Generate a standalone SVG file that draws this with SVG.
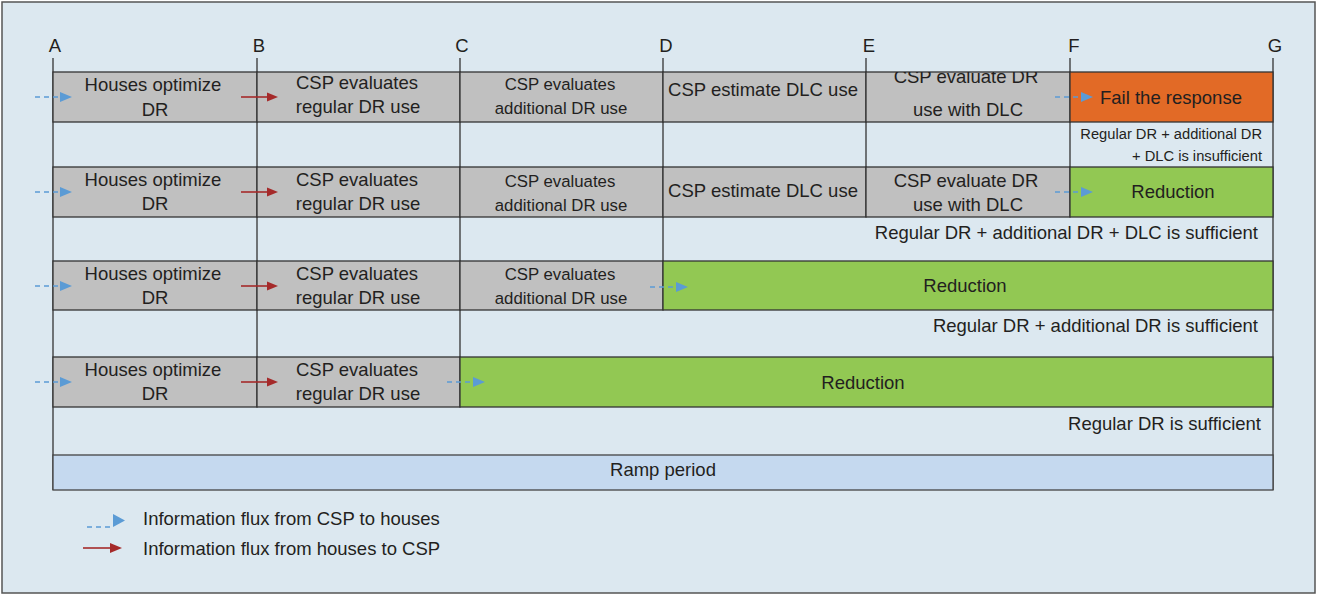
<svg xmlns="http://www.w3.org/2000/svg" width="1325" height="595" viewBox="0 0 1325 595">
<defs>
<style>
.t{font-family:"Liberation Sans",Arial,Helvetica,sans-serif;font-size:18.5px;fill:#231f20;text-anchor:middle}
.sm{font-size:14.7px}
.re{text-anchor:end}
.st{text-anchor:start}
.cond{font-size:16.8px}
.gray{fill:#c0c0c0;stroke:#333;stroke-width:1.3}
.green{fill:#92c853;stroke:#333;stroke-width:1.3}
.orange{fill:#e26a26;stroke:#333;stroke-width:1.3}
.ramp{fill:#c5d9ef;stroke:#444;stroke-width:1.3}
.grid{stroke:#333;stroke-width:1.3;fill:none}
.blue{stroke:#5b9bd5;stroke-width:1.6;stroke-dasharray:5 4;fill:none}
.red{stroke:#a52a2a;stroke-width:1.6;fill:none}
</style>
<marker id="hb" markerUnits="userSpaceOnUse" markerWidth="12" markerHeight="10" refX="0" refY="5" orient="auto"><path d="M0,0 L12,5 L0,10 z" fill="#5b9bd5"/></marker>
<marker id="hr" markerUnits="userSpaceOnUse" markerWidth="11" markerHeight="10" refX="0" refY="5" orient="auto"><path d="M0,0.5 L11,5 L0,9.5 z" fill="#a52a2a"/></marker>
<clipPath id="clipE1"><rect x="866" y="72" width="204" height="50"/></clipPath>
</defs>

<rect x="2" y="2" width="1313" height="591" fill="#dce8f0" stroke="#555" stroke-width="1.5"/>

<g id="axis">
<text class="t" x="55" y="52">A</text>
<text class="t" x="259" y="52">B</text>
<text class="t" x="462" y="52">C</text>
<text class="t" x="666" y="52">D</text>
<text class="t" x="869" y="52">E</text>
<text class="t" x="1074" y="52">F</text>
<text class="t" x="1275" y="52">G</text>
</g>

<g id="grid" class="grid">
<line x1="53" y1="58" x2="53" y2="490"/>
<line x1="257" y1="58" x2="257" y2="407"/>
<line x1="460" y1="58" x2="460" y2="407"/>
<line x1="663" y1="58" x2="663" y2="310"/>
<line x1="866" y1="58" x2="866" y2="217"/>
<line x1="1070" y1="58" x2="1070" y2="217"/>
<line x1="1273" y1="58" x2="1273" y2="490"/>
</g>

<!-- Row 1 -->
<g id="r1-houses"><rect class="gray" x="53" y="72" width="204" height="50"/><text class="t" x="153" y="91">Houses optimize</text><text class="t" x="155" y="116">DR</text></g>
<g id="r1-regular"><rect class="gray" x="257" y="72" width="203" height="50"/><text class="t" x="357" y="89">CSP evaluates</text><text class="t" x="358" y="113">regular DR use</text></g>
<g id="r1-additional"><rect class="gray" x="460" y="72" width="203" height="50"/><text class="t cond" x="560" y="90">CSP evaluates</text><text class="t cond" x="561" y="114">additional DR use</text></g>
<g id="r1-dlc"><rect class="gray" x="663" y="72" width="203" height="50"/><text class="t" x="763" y="95.5">CSP estimate DLC use</text></g>
<g id="r1-withdlc"><rect class="gray" x="866" y="72" width="204" height="50"/><text class="t" x="966" y="83" clip-path="url(#clipE1)">CSP evaluate DR</text><text class="t" x="968" y="116">use with DLC</text></g>
<g id="r1-fail"><rect class="orange" x="1070" y="72" width="203" height="50"/><text class="t" x="1171" y="103.5">Fail the response</text></g>
<g id="r1-note"><text class="t sm re" x="1262" y="138.5">Regular DR + additional DR</text><text class="t sm re" x="1262" y="161">+ DLC is insufficient</text></g>

<!-- Row 2 -->
<g id="r2-houses"><rect class="gray" x="53" y="167" width="204" height="50"/><text class="t" x="153" y="186">Houses optimize</text><text class="t" x="155" y="210">DR</text></g>
<g id="r2-regular"><rect class="gray" x="257" y="167" width="203" height="50"/><text class="t" x="357" y="186">CSP evaluates</text><text class="t" x="358" y="210">regular DR use</text></g>
<g id="r2-additional"><rect class="gray" x="460" y="167" width="203" height="50"/><text class="t cond" x="560" y="187">CSP evaluates</text><text class="t cond" x="561" y="211">additional DR use</text></g>
<g id="r2-dlc"><rect class="gray" x="663" y="167" width="203" height="50"/><text class="t" x="763" y="196.5">CSP estimate DLC use</text></g>
<g id="r2-withdlc"><rect class="gray" x="866" y="167" width="204" height="50"/><text class="t" x="966" y="187">CSP evaluate DR</text><text class="t" x="968" y="211">use with DLC</text></g>
<g id="r2-reduction"><rect class="green" x="1070" y="167" width="203" height="50"/><text class="t" x="1173" y="197.5">Reduction</text></g>
<g id="r2-note"><text class="t re" x="1258" y="238.5">Regular DR + additional DR + DLC is sufficient</text></g>

<!-- Row 3 -->
<g id="r3-houses"><rect class="gray" x="53" y="261" width="204" height="49"/><text class="t" x="153" y="280">Houses optimize</text><text class="t" x="155" y="304">DR</text></g>
<g id="r3-regular"><rect class="gray" x="257" y="261" width="203" height="49"/><text class="t" x="357" y="280">CSP evaluates</text><text class="t" x="358" y="304">regular DR use</text></g>
<g id="r3-additional"><rect class="gray" x="460" y="261" width="203" height="49"/><text class="t cond" x="560" y="280">CSP evaluates</text><text class="t cond" x="561" y="304">additional DR use</text></g>
<g id="r3-reduction"><rect class="green" x="663" y="261" width="610" height="49"/><text class="t" x="965" y="291.5">Reduction</text></g>
<g id="r3-note"><text class="t re" x="1258" y="332">Regular DR + additional DR is sufficient</text></g>

<!-- Row 4 -->
<g id="r4-houses"><rect class="gray" x="53" y="357" width="204" height="50"/><text class="t" x="153" y="376">Houses optimize</text><text class="t" x="155" y="400">DR</text></g>
<g id="r4-regular"><rect class="gray" x="257" y="357" width="203" height="50"/><text class="t" x="357" y="376">CSP evaluates</text><text class="t" x="358" y="400">regular DR use</text></g>
<g id="r4-reduction"><rect class="green" x="460" y="357" width="813" height="50"/><text class="t" x="863" y="388.5">Reduction</text></g>
<g id="r4-note"><text class="t re" x="1261" y="429.5">Regular DR is sufficient</text></g>

<g id="ramp"><rect class="ramp" x="53" y="455" width="1220" height="35"/><text class="t" x="663" y="476">Ramp period</text></g>

<g id="connectors">
<path class="blue" d="M35,97 H60" marker-end="url(#hb)"/>
<path class="blue" d="M35,192 H60" marker-end="url(#hb)"/>
<path class="blue" d="M35,286 H60" marker-end="url(#hb)"/>
<path class="blue" d="M35,382 H60" marker-end="url(#hb)"/>
<path class="red" d="M241,97 H267" marker-end="url(#hr)"/>
<path class="red" d="M241,192 H267" marker-end="url(#hr)"/>
<path class="red" d="M241,286 H267" marker-end="url(#hr)"/>
<path class="red" d="M241,382 H267" marker-end="url(#hr)"/>
<path class="blue" d="M1055,97 H1081" marker-end="url(#hb)"/>
<path class="blue" d="M1055,192 H1081" marker-end="url(#hb)"/>
<path class="blue" d="M650,287 H676" marker-end="url(#hb)"/>
<path class="blue" d="M447,382 H473" marker-end="url(#hb)"/>
</g>

<g id="legend">
<path class="blue" d="M87,527 H113"/>
<polygon points="113,514 125,520.5 113,527" fill="#5b9bd5"/>
<text class="t st" x="143" y="525">Information flux from CSP to houses</text>
<path class="red" d="M83,548 H111"/>
<polygon points="110,543 122,548 110,553" fill="#a52a2a"/>
<text class="t st" x="143" y="555">Information flux from houses to CSP</text>
</g>
</svg>
